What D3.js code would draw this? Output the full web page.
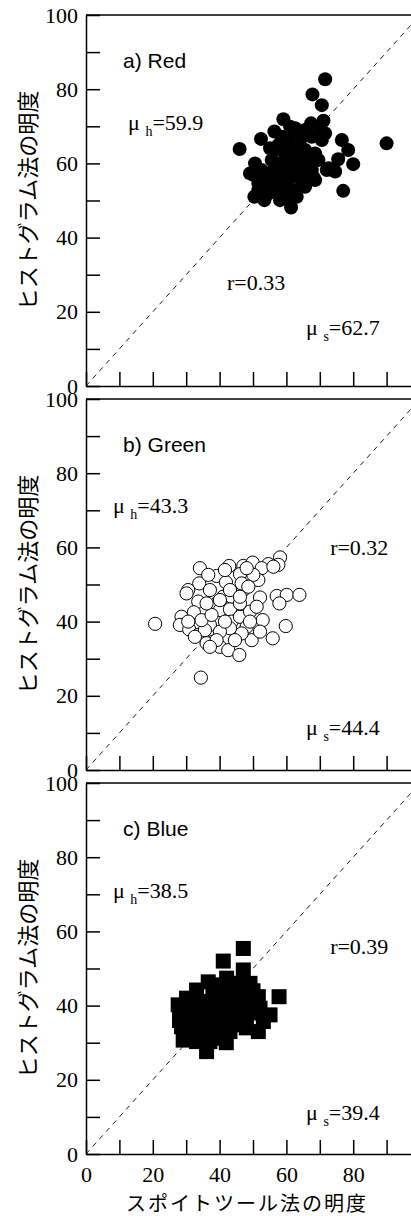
<!DOCTYPE html>
<html>
<head>
<meta charset="utf-8">
<script src="https://cdn.jsdelivr.net/npm/d3@7"></script>
<style>
  body { margin: 0; background: #fff; }
  svg { display: block; }
  .serif, .tick text { font-family: "Liberation Serif", "Times New Roman", Times, serif; font-size: 22px; fill: #000; }
</style>
</head>
<body>
<div class="container"></div>
<script>
// values
var redX = [71.6,67.8,70.6,59.1,67.4,71.1,56.4,52.4,46.0,76.6,
  78.5,90.0,80.0,75.5,77.0,61.4,50.6,50.1,50.4,53.4,
  58.1,68.1,72.1,74.6,70.6,70.1,62.6,64.6,60.6,61.1,
  56.6,55.6,65.6,66.6,67.6,63.6,59.6,53.6,51.6,55.6,
  58.6,61.6,64.6,62.6,59.6,56.6,54.6,51.6,63.1,60.6,
  57.6,59.1,63.1,64.1,61.6,57.6,68.6,69.6,72.6,65.6,
  57.1,53.6,65.6,61.1,55.1,67.6,71.6,58.6,61.6,59.6,
  64.6,68.6,65.6,52.6,49.1,60.0,62.0,58.0,63.0,66.0,
  60.0,56.0,64.0];
var redY = [82.7,78.6,75.7,71.9,70.8,71.5,68.6,66.6,63.9,66.3,
  63.6,65.4,59.8,61.1,52.6,48.1,60.0,56.9,51.0,50.1,
  50.1,56.3,58.2,57.8,66.3,68.6,69.5,67.2,67.2,62.7,
  63.6,60.9,63.6,60.0,58.2,59.1,58.2,56.4,54.6,54.6,
  55.5,56.4,55.5,52.8,52.8,52.4,51.9,52.8,51.0,51.0,
  65.0,60.5,61.8,65.0,59.1,58.2,62.7,60.9,58.7,58.2,
  56.4,53.7,69.0,69.9,64.1,67.2,68.1,67.2,65.0,62.7,
  60.9,55.5,53.7,58.2,57.3,62.0,58.0,56.0,64.0,62.0,
  54.0,58.0,57.0];

var greenX = [20.7,34.4,34.1,42.9,47.1,49.9,58.1,57.6,54.6,52.6,
  39.1,41.9,46.1,51.6,33.9,30.6,30.1,37.1,41.1,47.1,
  52.1,57.1,60.1,63.9,57.9,33.6,39.1,43.6,46.6,50.1,
  32.3,28.6,28.1,30.9,33.6,37.1,40.1,43.1,43.6,46.1,
  48.1,49.1,52.9,59.8,55.9,49.6,41.6,38.1,36.1,40.1,
  42.6,45.9,52.1,46.6,43.1,40.1,35.6,34.6,37.6,40.1,
  43.1,48.6,36.1,46.1,51.1,39.1,37.1,44.6,49.1,41.6,
  46.1,36.6,30.6,32.6,56.1,48.1,41.6];
var greenY = [39.4,24.9,54.4,55.0,55.0,55.9,57.3,55.3,55.5,54.4,
  52.3,50.6,52.8,51.2,50.3,48.5,47.6,48.5,46.7,48.5,
  46.5,46.9,47.2,47.2,44.9,45.4,44.9,46.7,50.3,52.6,
  42.5,41.3,39.1,37.9,36.4,39.1,43.1,43.3,40.0,41.3,
  38.6,42.7,40.4,38.8,35.5,35.0,35.5,34.6,34.2,33.2,
  32.3,31.0,37.3,36.8,38.2,37.3,37.7,40.4,41.8,45.8,
  48.5,49.4,44.9,44.9,44.0,35.0,33.2,35.0,40.0,40.0,
  46.7,52.6,40.0,35.9,54.8,54.4,53.9];

var blueX = [47.1,41.1,47.1,57.8,55.1,51.6,27.6,28.6,29.1,36.1,
  33.1,36.6,45.1,49.1,51.6,30.1,32.1,34.1,40.1,46.1,
  48.1,42.1,38.1,36.1,42.1,39.1,44.6,31.1,33.1,38.1,
  43.1,49.1,52.1,34.1,37.1,40.6,44.1,46.1,40.1,42.1,
  28.1,35.1,46.1,53.1,33.1,37.1,38.0,42.0,44.0,40.0,
  36.0,32.0,30.0,34.0,38.0,44.0,48.0,50.0,46.0,40.0,
  36.0,42.0,30.0,28.0,48.0,50.0];
var blueY = [55.4,52.0,49.6,42.4,37.5,33.0,40.2,34.3,30.7,27.6,
  44.2,46.4,46.0,46.0,42.4,42.0,38.4,32.1,31.2,34.8,
  38.4,41.1,39.3,35.7,35.7,42.9,43.3,35.7,30.3,33.0,
  33.0,41.1,39.3,41.1,37.5,37.5,38.4,40.2,45.6,47.4,
  37.5,33.9,43.7,35.7,34.8,30.3,44.0,44.0,40.0,38.0,
  40.0,36.0,38.0,38.0,35.0,36.0,37.0,44.0,42.0,34.0,
  32.0,30.0,33.0,36.0,34.0,38.0];

var panelNames = ["a) Red", "b) Green", "c) Blue"];
var meanH = ["59.9", "43.3", "38.5"];
var meanS = ["62.7", "44.4", "39.4"];
var corrR = ["0.33", "0.32", "0.39"];
var yTicks = [0, 10, 20, 30, 40, 50, 60, 70, 80, 90, 100];
var xTicks = [0, 10, 20, 30, 40, 50, 60, 70, 80, 90, 100];
var xLabels = [0, 20, 40, 60, 80];

var yTitle = "ヒストグラム法の明度";
var xTitle = "スポイトツール法の明度";

// layout
var W = 411, H = 1216;
var left = 86, plotH = 371;
var tops = [15, 399, 783];
// where the notes sit, in data units [x, y]
var notePos = [
  { lab: [11.1, 85.7], mh: [12.6, 69.0], r: [42.2, 25.9], ms: [65.9, 13.7] },
  { lab: [11.1, 85.8], mh: [8.1, 69.3], r: [73.1, 58.0], ms: [65.9, 9.4] },
  { lab: [11.1, 85.7], mh: [8.1, 69.0], r: [73.1, 53.9], ms: [65.9, 9.2] }
];

var svg = d3.select(".container").append("svg")
  .attr("width", W).attr("height", H)
  .style("background", "#fff");

var x = d3.scaleLinear().domain([0, 100]).range([left, left + 334]);

var sets = [
  { xs: redX, ys: redY, kind: "dot" },
  { xs: greenX, ys: greenY, kind: "ring" },
  { xs: blueX, ys: blueY, kind: "square" }
];

sets.forEach(function (s, p) {
  var top = tops[p];
  var y = d3.scaleLinear().domain([0, 100]).range([top + plotH, top]);
  var g = svg.append("g");

  // 1:1 line
  g.append("line")
    .attr("x1", x(0)).attr("y1", y(0))
    .attr("x2", x(100)).attr("y2", y(100))
    .attr("stroke", "#000").attr("stroke-width", 0.9)
    .attr("stroke-dasharray", "5,5");

  var pts = s.xs.map(function (v, i) { return [v, s.ys[i]]; });
  if (s.kind === "square") {
    g.selectAll("rect.pt").data(pts).enter().append("rect")
      .attr("class", "pt")
      .attr("x", function (d) { return x(d[0]) - 7.5; })
      .attr("y", function (d) { return y(d[1]) - 7.5; })
      .attr("width", 15).attr("height", 15)
      .attr("fill", "#000");
  } else {
    g.selectAll("circle.pt").data(pts).enter().append("circle")
      .attr("class", "pt")
      .attr("cx", function (d) { return x(d[0]); })
      .attr("cy", function (d) { return y(d[1]); })
      .attr("r", s.kind === "dot" ? 7 : 6.6)
      .attr("fill", s.kind === "dot" ? "#000" : "#fff")
      .attr("stroke", "#000")
      .attr("stroke-width", s.kind === "dot" ? 0 : 1);
  }

  // axes
  var yAxis = d3.axisLeft(y).tickValues(yTicks)
    .tickFormat(function (d) { return d % 20 === 0 ? d : ""; })
    .tickSize(-14).tickSizeOuter(0).tickPadding(8);
  var ya = g.append("g").attr("transform", "translate(" + left + ",0)").call(yAxis);

  var xAxis = d3.axisBottom(x).tickValues(xTicks)
    .tickFormat(function (d) { return (p === 2 && xLabels.indexOf(d) >= 0) ? d : ""; })
    .tickSize(-14).tickSizeOuter(0).tickPadding(12);
  var xa = g.append("g").attr("transform", "translate(0," + (top + plotH) + ")").call(xAxis);

  [ya, xa].forEach(function (a) {
    a.attr("font-family", null).attr("font-size", null);
    a.selectAll("path, line").attr("stroke", "#000").attr("stroke-width", 1.5);
    a.selectAll("text").attr("class", "serif");
  });

  g.append("line")
    .attr("x1", left).attr("x2", x(100))
    .attr("y1", top).attr("y2", top)
    .attr("stroke", "#000").attr("stroke-width", 1.5);

  // y title
  g.append("text")
    .attr("transform", "translate(36," + (top + plotH / 2) + ") rotate(-90)")
    .attr("text-anchor", "middle")
    .style("font-family", "'Noto Sans CJK JP', sans-serif")
    .style("font-size", "22px")
    .text(yTitle);

  var np = notePos[p];
  g.append("text")
    .attr("x", x(np.lab[0])).attr("y", y(np.lab[1]))
    .style("font-family", "'Liberation Sans', Arial, sans-serif")
    .style("font-size", "21px")
    .text(panelNames[p]);

  function muText(pos, sub, val) {
    var t = g.append("text").attr("class", "serif")
      .attr("x", x(pos[0])).attr("y", y(pos[1]));
    t.append("tspan").text("μ ");
    t.append("tspan").attr("dy", 6).style("font-size", "14px").text(sub);
    t.append("tspan").attr("dy", -6).text("=" + val);
  }
  muText(np.mh, "h", meanH[p]);
  muText(np.ms, "s", meanS[p]);

  g.append("text").attr("class", "serif")
    .attr("x", x(np.r[0])).attr("y", y(np.r[1]))
    .text("r=" + corrR[p]);
});

svg.append("text")
  .attr("x", 247).attr("y", 1211)
  .attr("text-anchor", "middle")
  .style("font-family", "'Noto Sans CJK JP', sans-serif")
  .style("font-size", "20px")
  .style("letter-spacing", "2px")
  .text(xTitle);
</script>
</body>
</html>
